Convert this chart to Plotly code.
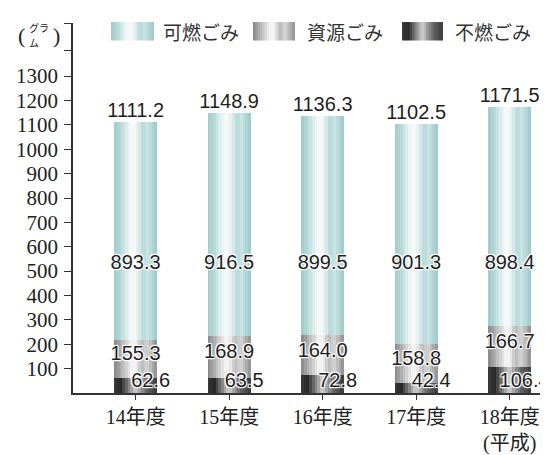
import plotly.graph_objects as go

# ---- data ----
categories = ["14年度", "15年度", "16年度", "17年度", "18年度<br>(平成)"]
funen = [62.6, 63.5, 72.8, 42.4, 106.4]        # 不燃ごみ
shigen = [155.3, 168.9, 164.0, 158.8, 166.7]   # 資源ごみ
kanen = [893.3, 916.5, 899.5, 901.3, 898.4]    # 可燃ごみ
totals = [1111.2, 1148.9, 1136.3, 1102.5, 1171.5]
series_names = ["可燃ごみ", "資源ごみ", "不燃ごみ"]
y_tick_values = [100, 200, 300, 400, 500, 600, 700, 800, 900, 1000, 1100, 1200, 1300]

# ---- styling ----
W_FIG, H_FIG = 548, 455
ML, MR, MT, MB = 65, 8, 15, 58
PW, PH = W_FIG - ML - MR, H_FIG - MT - MB

grad_kanen = [(0.0, "#9fcaca"), (0.15, "#b6dad8"), (0.35, "#edf5f5"), (0.45, "#fbf9fb"),
              (0.56, "#e0eef0"), (0.68, "#b4d8d9"), (0.78, "#c9e4e4"), (1.0, "#9cc8c9")]
grad_shigen = [(0.0, "#858585"), (0.18, "#b5b5b5"), (0.4, "#f2f2f2"), (0.5, "#f4f4f4"),
               (0.64, "#b9b9b9"), (0.76, "#d6d6d6"), (1.0, "#8e8e8e")]
grad_funen = [(0.0, "#3a3a3a"), (0.15, "#262626"), (0.35, "#8a8a8a"), (0.5, "#d2d2d2"),
              (0.65, "#8c8c8c"), (0.8, "#5a5a5a"), (1.0, "#3a3a3a")]


def hex2rgb(h):
    h = h.lstrip("#")
    return tuple(int(h[i:i + 2], 16) for i in (0, 2, 4))


def interp(stops, t):
    for (p0, c0), (p1, c1) in zip(stops[:-1], stops[1:]):
        if p0 <= t <= p1:
            f = (t - p0) / (p1 - p0) if p1 > p0 else 0
            a, b = hex2rgb(c0), hex2rgb(c1)
            return "rgb(%d,%d,%d)" % tuple(round(a[k] + (b[k] - a[k]) * f) for k in range(3))
    return stops[-1][1]


xs = list(range(len(categories)))
bar_w = 0.46
N = 16

base_funen = [0] * len(xs)
base_shigen = funen[:]
base_kanen = [f + s for f, s in zip(funen, shigen)]

fig = go.Figure()
for vals, bases, stops in [(funen, base_funen, grad_funen),
                           (shigen, base_shigen, grad_shigen),
                           (kanen, base_kanen, grad_kanen)]:
    for i in range(N):
        off = -bar_w / 2 + i * bar_w / N
        wid = min(bar_w / N * 2.2, bar_w / 2 - off)
        fig.add_trace(go.Bar(
            x=xs, y=vals, base=bases, width=wid, offset=off,
            marker=dict(color=interp(stops, (i + 0.5) / N), line=dict(width=0)),
            showlegend=False, hoverinfo="skip"))

halo = "1px 1px 1px #fff, -1px -1px 1px #fff, 1px -1px 1px #fff, -1px 1px 1px #fff, 0 0 2px #fff"
lab_font = dict(family="Liberation Sans, Arial, sans-serif", size=20, color="#1e1e1e", shadow=halo)

# totals above bars
fig.add_trace(go.Scatter(x=xs, y=totals, mode="text", text=[f"{v:.1f}" for v in totals],
                         textposition="top center", textfont=lab_font, showlegend=False,
                         hoverinfo="skip", cliponaxis=False))
# 可燃 labels (placed at a common level)
KANEN_LABEL_LEVEL = 530
fig.add_trace(go.Scatter(x=xs, y=[KANEN_LABEL_LEVEL] * len(xs), mode="text",
                         text=[f"{v:.1f}" for v in kanen], textposition="middle center",
                         textfont=lab_font, showlegend=False, hoverinfo="skip", cliponaxis=False))
# 資源 labels
fig.add_trace(go.Scatter(x=xs, y=[f + s / 2 + 15 for f, s in zip(funen, shigen)], mode="text",
                         text=[f"{v:.1f}" for v in shigen], textposition="middle center",
                         textfont=lab_font, showlegend=False, hoverinfo="skip", cliponaxis=False))
# 不燃 labels (shifted right of bar centre)
FUNEN_LABEL_LEVEL = 44
FUNEN_LABEL_SHIFT = 0.16
fig.add_trace(go.Scatter(x=[x + FUNEN_LABEL_SHIFT for x in xs], y=[FUNEN_LABEL_LEVEL] * len(xs),
                         mode="text", text=[f"{v:.1f}" for v in funen], textposition="middle center",
                         textfont=lab_font, showlegend=False, hoverinfo="skip", cliponaxis=False))


def px2paper(px, py):
    return (px - ML) / PW, (H_FIG - MB - py) / PH


shapes = []
annotations = []
# custom gradient legend
legend_items = [(series_names[0], grad_kanen, 103, 146, 153),
                (series_names[1], grad_shigen, 245, 287, 297),
                (series_names[2], grad_funen, 394, 435, 445)]
NS = 24
for name, stops, x0, x1, tx in legend_items:
    for i in range(NS):
        a = x0 + (x1 - x0) * i / NS
        b = x0 + (x1 - x0) * (i + 1) / NS + 0.6
        pa, py0 = px2paper(a, 33)
        pb, py1 = px2paper(min(b, x1), 14)
        shapes.append(dict(type="rect", xref="paper", yref="paper", x0=pa, x1=pb, y0=py0, y1=py1,
                           fillcolor=interp(stops, (i + 0.5) / NS), line=dict(width=0), layer="above"))
    ax, ay = px2paper(tx, 24)
    annotations.append(dict(text=name, xref="paper", yref="paper", x=ax, y=ay, xanchor="left",
                            yanchor="middle", showarrow=False,
                            font=dict(family="Noto Sans CJK JP", size=19, color="#333")))

# unit label (グラム)
serif = "Liberation Serif, DejaVu Serif, Noto Sans CJK JP, serif"
for txt, px, py, sz in [("(", 13, 28, 22), (")", 48, 28, 22)]:
    ax, ay = px2paper(px, py)
    annotations.append(dict(text=txt, xref="paper", yref="paper", x=ax, y=ay, xanchor="center",
                            yanchor="middle", showarrow=False, font=dict(family=serif, size=sz, color="#222")))
for txt, px, py, sz in [("グラ", 31, 20, 10), ("ム", 26, 35, 10)]:
    ax, ay = px2paper(px, py)
    annotations.append(dict(text=txt, xref="paper", yref="paper", x=ax, y=ay, xanchor="center",
                            yanchor="middle", showarrow=False, borderpad=0,
                            font=dict(family="Noto Sans CJK JP", size=sz, color="#222")))

fig.update_layout(
    width=W_FIG, height=H_FIG,
    margin=dict(l=ML, r=MR, t=MT, b=MB),
    paper_bgcolor="white", plot_bgcolor="white",
    barmode="overlay", bargap=0,
    showlegend=False,
    shapes=shapes, annotations=annotations,
    xaxis=dict(range=[-0.67, 4.41], tickmode="array", tickvals=xs, ticktext=categories,
               showgrid=False, zeroline=False, showline=True, linecolor="#333", linewidth=1.5,
               ticks="outside", ticklen=5, tickcolor="#333", tickwidth=1.2,
               tickfont=dict(family=serif, size=20, color="#222")),
    yaxis=dict(range=[0, 1518], tickmode="array",
               tickvals=y_tick_values + [1405, 1516],
               ticktext=[str(v) for v in y_tick_values] + ["", ""],
               showgrid=False, zeroline=False, showline=True, linecolor="#333", linewidth=1.5,
               ticks="outside", ticklen=7, tickcolor="#333", tickwidth=1.2,
               ticklabelstandoff=2,
               tickfont=dict(family=serif, size=21, color="#222")),
)

fig.write_html("out.html")
